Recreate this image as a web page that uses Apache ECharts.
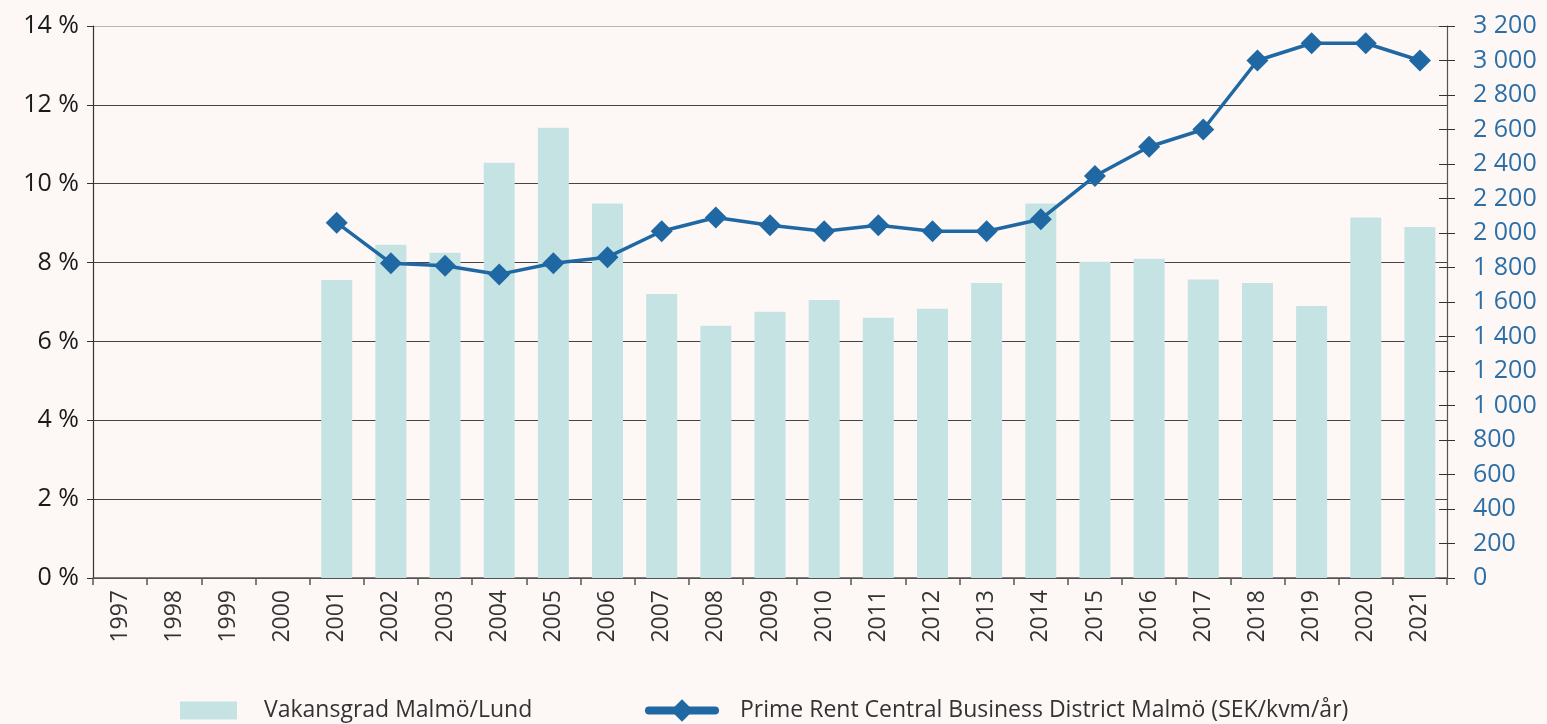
<!DOCTYPE html>
<html>
<head>
<meta charset="utf-8">
<script src="https://cdn.jsdelivr.net/npm/echarts@6/dist/echarts.min.js"></script>
<style>
html,body{margin:0;padding:0;background:#fdf8f6;}
#chart{width:1547px;height:724px;}
</style>
</head>
<body>
<div id="chart"></div>
<script>
const years = ['1997','1998','1999','2000','2001','2002','2003','2004','2005','2006','2007','2008','2009','2010','2011','2012','2013','2014','2015','2016','2017','2018','2019','2020','2021'];
const vacancy = [null,null,null,null,7.56,8.45,8.25,10.53,11.42,9.5,7.2,6.4,6.75,7.05,6.6,6.83,7.48,9.5,8.02,8.1,7.57,7.48,6.9,9.14,8.9];
const primeRent = [null,null,null,null,2060,1825,1810,1760,1825,1860,2010,2090,2045,2010,2045,2010,2010,2080,2330,2500,2600,3000,3100,3100,3000];
const leftTicks = {min:0, max:14, interval:2};
const rightTicks = {min:0, max:3200, interval:200};
const seriesNames = ['Vakansgrad Malmö/Lund','Prime Rent Central Business District Malmö (SEK/kvm/år)'];

const FONT = '"Open Sans", "Noto Sans", sans-serif';
const chart = echarts.init(document.getElementById('chart'));
chart.setOption({
  backgroundColor:'#fdf8f6',
  animation:false,
  textStyle:{fontFamily:FONT},
  grid:{left:93,right:100,top:26,bottom:146,containLabel:false},
  legend:[
    {data:[seriesNames[0]],left:175,top:694,itemWidth:57,itemHeight:18,icon:'rect',
     textStyle:{fontSize:23,color:'#333',fontFamily:FONT,padding:[0,0,0,22]}},
    {data:[seriesNames[1]],left:640,top:694,itemWidth:66,itemHeight:28,
     lineStyle:{width:8,cap:'round'},
     textStyle:{fontSize:23,color:'#333',fontFamily:FONT,padding:[0,0,0,20]}}
  ],
  xAxis:{
    type:'category',data:years,boundaryGap:true,
    axisLine:{lineStyle:{color:'#555',width:1.5}},
    axisTick:{show:true,length:7,lineStyle:{color:'#555',width:1.5}},
    axisLabel:{rotate:90,fontSize:23,color:'#333',margin:12,fontFamily:FONT}
  },
  yAxis:[
    {type:'value',min:leftTicks.min,max:leftTicks.max,interval:leftTicks.interval,
     axisLine:{show:true,lineStyle:{color:'#333',width:1.2}},
     axisTick:{show:true,length:6,lineStyle:{color:'#333'}},
     axisLabel:{fontSize:25,color:'#1a1a1a',margin:14,formatter:v=>v+' %',fontFamily:FONT},
     splitLine:{show:true,lineStyle:{color:['#444','#444','#444','#444','#444','#444','#444','#b5b5b5'],width:1.2}}
    },
    {type:'value',min:rightTicks.min,max:rightTicks.max,interval:rightTicks.interval,position:'right',
     axisLine:{show:true,lineStyle:{color:'#555',width:1.2}},
     axisTick:{show:true,length:8,lineStyle:{color:'#333'}},
     axisLabel:{fontSize:25,color:'#2c6fa7',margin:26,fontFamily:FONT,
       formatter:v=>String(v).replace(/\B(?=(\d{3})+(?!\d))/g,' ')},
     splitLine:{show:false}
    },
    {type:'value',min:rightTicks.min,max:rightTicks.max,interval:rightTicks.interval,position:'right',
     axisLine:{show:false},
     axisTick:{show:true,inside:true,length:8,lineStyle:{color:'#333'}},
     axisLabel:{show:false},
     splitLine:{show:false}
    }
  ],
  series:[
    {name:seriesNames[0],type:'bar',data:vacancy,yAxisIndex:0,barWidth:31,
     itemStyle:{color:'#c5e3e3'}},
    {name:seriesNames[1],type:'line',data:primeRent,yAxisIndex:1,
     symbol:'diamond',symbolSize:22,showAllSymbol:true,
     lineStyle:{color:'#1f68a3',width:3.5},itemStyle:{color:'#1f68a3'}}
  ]
});
</script>
</body>
</html>
